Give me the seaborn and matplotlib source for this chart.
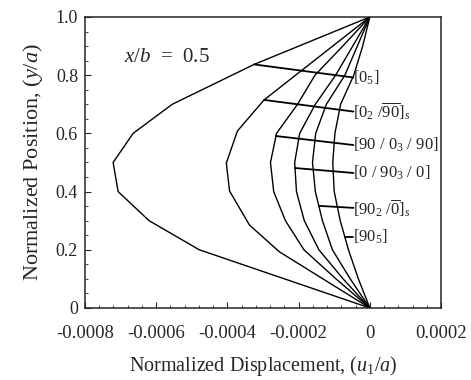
import numpy as np
import pandas as pd
import matplotlib
matplotlib.use("Agg")
import matplotlib.pyplot as plt
from matplotlib.ticker import MultipleLocator
import seaborn as sns

# Through-thickness displacement profiles at x/b = 0.5 for six lay-ups
layups = ["[0_5]", "[0_2/90b]_s", "[90/0_3/90]", "[0/90_3/0]", "[90_2/0b]_s", "[90_5]"]

pos_0_5 = [0.0, 0.2, 0.3, 0.4, 0.5, 0.6, 0.7, 0.837, 1.0]
disp_0_5 = [0.0, -0.000479, -0.000620, -0.000707, -0.000721, -0.000665, -0.000555, -0.000325, 0.0]

pos_0_2_90 = [0.0, 0.193, 0.285, 0.402, 0.498, 0.608, 0.715, 1.0]
disp_0_2_90 = [0.0, -0.000254, -0.000338, -0.000394, -0.000403, -0.000372, -0.000297, 0.0]

pos_grid = [0.0, 0.1, 0.2, 0.3, 0.4, 0.5, 0.6, 0.7, 0.8, 0.9, 1.0]
disp_90_0_3_90 = [0.0, -0.000095, -0.000185, -0.000237, -0.000270, -0.000279, -0.000262, -0.000203, -0.000154, -0.000076, 0.0]
disp_0_90_3_0 = [0.0, -0.000075, -0.000143, -0.000184, -0.000206, -0.000211, -0.000197, -0.000153, -0.000096, -0.000048, 0.0]
disp_90_2_0 = [0.0, -0.000055, -0.000105, -0.000133, -0.000153, -0.000161, -0.000152, -0.000122, -0.000070, -0.000035, 0.0]
disp_90_5 = [0.0, -0.000032, -0.000060, -0.000083, -0.000100, -0.000104, -0.000098, -0.000082, -0.000045, -0.000020, 0.0]

profiles = [
    (pos_0_5, disp_0_5),
    (pos_0_2_90, disp_0_2_90),
    (pos_grid, disp_90_0_3_90),
    (pos_grid, disp_0_90_3_0),
    (pos_grid, disp_90_2_0),
    (pos_grid, disp_90_5),
]

# Where each label's leader line touches its curve, and the label height
leader_pos = [0.837, 0.715, 0.591, 0.481, 0.351, 0.245]
label_pos = [0.792, 0.675, 0.560, 0.464, 0.344, 0.245]
label_text = [
    r"[0$_5$]",
    r"[0$_2$ /$\overline{90}$]$_s$",
    r"[90 / 0$_3$ / 90]",
    r"[0 / 90$_3$ / 0]",
    r"[90$_2$ /$\overline{0}$]$_s$",
    r"[90$_5$]",
]

x_ticks = [-0.0008, -0.0006, -0.0004, -0.0002, 0.0, 0.0002]
x_ticklabels = ["-0.0008", "-0.0006", "-0.0004", "-0.0002", "0", "0.0002"]
y_ticks = [0.0, 0.2, 0.4, 0.6, 0.8, 1.0]
y_ticklabels = ["0", "0.2", "0.4", "0.6", "0.8", "1.0"]

rows = []
for name, (p, d) in zip(layups, profiles):
    for yy, xx in zip(p, d):
        rows.append({"layup": name, "disp": xx, "pos": yy})
df = pd.DataFrame(rows)

sns.set_style("ticks")
plt.rcParams["font.family"] = ["Liberation Serif", "DejaVu Serif"]
plt.rcParams["mathtext.fontset"] = "custom"
plt.rcParams["mathtext.rm"] = "Liberation Serif"
plt.rcParams["mathtext.it"] = "Liberation Serif:italic"
plt.rcParams["xtick.direction"] = "in"
plt.rcParams["ytick.direction"] = "in"

fig = plt.figure(figsize=(4.71, 3.80), dpi=100)
ax = fig.add_axes([0.1805, 0.1895, 0.7558, 0.7658])

sns.lineplot(data=df, x="disp", y="pos", hue="layup", units="layup",
             estimator=None, sort=False, legend=False, ax=ax,
             palette={n: "black" for n in layups}, linewidth=1.0)

ax.set_xlim(-0.0008, 0.0002)
ax.set_ylim(0.0, 1.0)
ax.set_xticks(x_ticks)
ax.set_xticklabels(x_ticklabels, fontsize=13.5)
ax.set_yticks(y_ticks)
ax.set_yticklabels(y_ticklabels, fontsize=13)
ax.xaxis.set_minor_locator(MultipleLocator(0.00004))
ax.yaxis.set_minor_locator(MultipleLocator(0.05))
ax.tick_params(which="major", length=4, width=0.8)
ax.tick_params(axis="x", which="major", pad=12)
ax.tick_params(axis="y", which="major", pad=5)
ax.tick_params(which="minor", length=2, width=0.6)
for s in ax.spines.values():
    s.set_linewidth(1.1)
    s.set_visible(True)

ax.set_xlabel(r"Normalized Displacement, ($u_1/a$)", fontsize=14.5, labelpad=9)
ax.set_ylabel(r"Normalized Position, ($y/a$)", fontsize=16, labelpad=8)

# Leader lines and lay-up labels
label_x = -0.000046
for (p, d), yp, yl, txt in zip(profiles, leader_pos, label_pos, label_text):
    x0 = np.interp(yp, p, d)
    ax.plot([x0, label_x], [yp, yl], color="black", linewidth=1.3)
    ax.text(label_x, yl, txt, fontsize=12, ha="left", va="center")

ax.text(-0.000690, 0.862, r"$x/b$  =  0.5", fontsize=15, ha="left", va="center")

fig.savefig("out.png", dpi=100)
